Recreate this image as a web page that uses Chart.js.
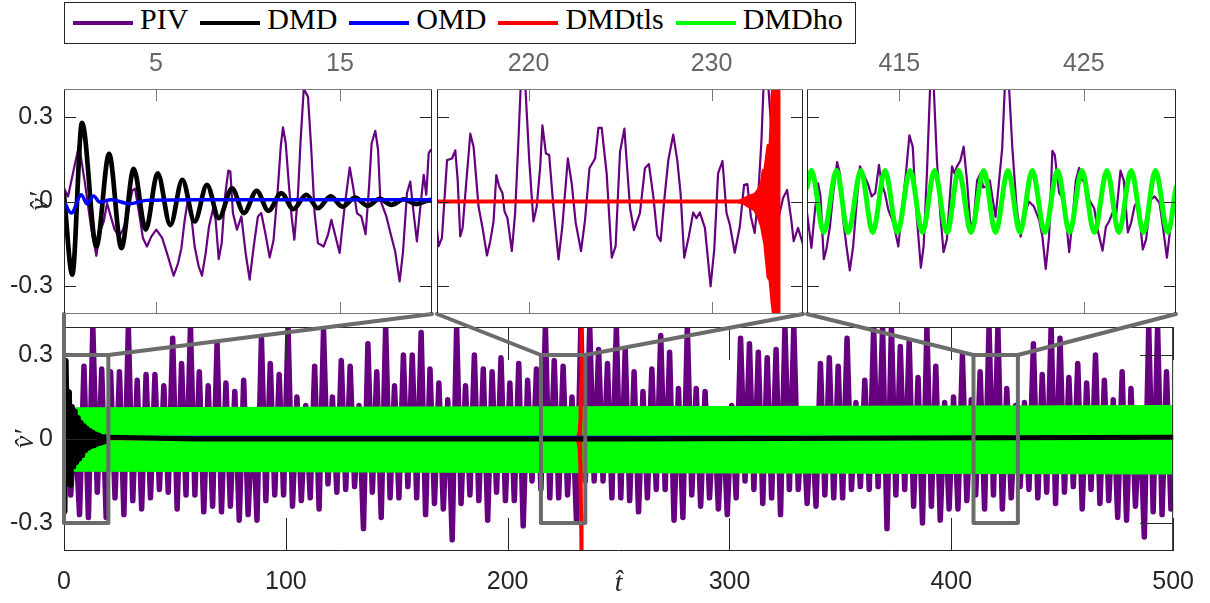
<!DOCTYPE html>
<html>
<head>
<meta charset="utf-8">
<script src="https://cdn.jsdelivr.net/npm/chart.js@4.4.1/dist/chart.umd.min.js"></script>
<style>
  html, body { margin:0; padding:0; background:#ffffff; }
  #wrap { position:relative; width:1210px; height:603px; overflow:hidden; background:#fff; }
  #wrap canvas { position:absolute; left:0; top:0; }
  #legend { position:absolute; left:64px; top:2px; width:782px; height:40px; padding-left:8px; border:1px solid #262626; background:#fff; display:flex; align-items:center; font-family:'Liberation Serif','Times New Roman',serif; font-size:30px; color:#000; }
  #legend .item { display:flex; align-items:center; }
  #legend .item + .item { margin-left:12px; }
  #legend .sw { display:inline-block; width:60px; height:4.5px; margin-right:7px; }
  #legend .lb { position:relative; top:-4px; line-height:30px; white-space:nowrap; }
</style>
</head>
<body>
<div id="wrap">
  <canvas id="cBottom" width="1210" height="603"></canvas>
  <canvas id="cA" width="1210" height="603"></canvas>
  <canvas id="cB" width="1210" height="603"></canvas>
  <canvas id="cC" width="1210" height="603"></canvas>
  <div id="legend"></div>
</div>
<script>
// ---------------- data ----------------
const seriesNames  = ['PIV', 'DMD', 'OMD', 'DMDtls', 'DMDho'];
const seriesColors = ['#660080', '#000000', '#0000ff', '#ff0000', '#00ff00'];

const yTicks       = [-0.3, 0, 0.3];
const yTickLabels  = ['-0.3', '0', '0.3'];
const bottomXTicks = [0, 100, 200, 300, 400, 500];
const insetXTicks  = [[5, 15], [220, 230], [415, 425]];
const zoomWindows  = [[0, 20], [215, 235], [410, 430]];
const zoomYRange   = [-0.3, 0.3];

// PIV in the three zoom windows: [t, v]
const pivWindowA = [[0,0.047],[0.22,0.018],[0.55,0.12],[0.82,0.2],[1.15,0.06],[1.49,-0.10],[1.76,-0.193],[1.94,-0.112],[2.16,-0.071],[2.34,-0.006],[2.54,-0.053],[2.75,-0.10],[2.99,-0.124],[3.21,-0.10],[3.48,-0.041],[3.71,0.039],[3.86,0.046],[4.08,-0.041],[4.29,-0.13],[4.51,-0.16],[4.75,-0.124],[5.02,-0.10],[5.34,-0.13],[5.65,-0.195],[5.96,-0.264],[6.2,-0.219],[6.38,-0.166],[6.56,-0.065],[6.74,0.008],[6.92,-0.053],[7.1,-0.16],[7.32,-0.231],[7.5,-0.264],[7.7,-0.183],[7.88,-0.089],[8.1,-0.027],[8.24,-0.065],[8.41,-0.205],[8.57,-0.148],[8.75,0.018],[8.93,0.11],[9.04,0.107],[9.18,-0.041],[9.4,-0.10],[9.64,-0.053],[9.87,-0.183],[10.09,-0.278],[10.31,-0.16],[10.54,-0.053],[10.72,-0.041],[10.94,-0.112],[11.18,-0.199],[11.39,-0.136],[11.63,0.053],[11.78,0.195],[11.9,0.264],[12.05,0.207],[12.23,0.053],[12.37,-0.053],[12.52,-0.136],[12.72,0.03],[12.86,0.219],[13.03,0.40],[13.26,0.373],[13.44,0.183],[13.62,-0.041],[13.8,-0.148],[14.11,-0.16],[14.35,-0.118],[14.53,-0.065],[14.71,-0.112],[14.98,-0.183],[15.25,-0.018],[15.53,0.121],[15.71,0.053],[15.92,-0.041],[16.16,-0.053],[16.39,-0.116],[16.58,0.053],[16.72,0.207],[16.92,0.251],[17.07,0.183],[17.19,0.006],[17.52,-0.053],[17.74,-0.112],[18.0,-0.178],[18.24,-0.284],[18.42,-0.183],[18.64,0.03],[18.82,0.071],[19.0,-0.041],[19.18,-0.142],[19.37,-0.018],[19.55,0.095],[19.69,0.024],[19.82,0.172],[19.93,0.183],[20.0,0.183]];

const pivWindowB = [[215.00,-0.100],[215.09,-0.159],[215.27,-0.129],[215.55,0.147],[215.82,0.153],[216.00,0.182],[216.13,0.076],[216.27,-0.124],[216.40,-0.094],[216.58,0.053],[216.82,0.241],[217.00,0.194],[217.27,-0.018],[217.49,-0.094],[217.73,-0.192],[217.91,-0.141],[218.09,-0.071],[218.24,0.094],[218.40,0.053],[218.58,0.029],[218.69,-0.035],[218.85,-0.059],[219.09,-0.176],[219.27,-0.041],[219.45,0.218],[219.58,0.42],[219.82,0.42],[220.04,0.147],[220.27,-0.071],[220.45,-0.018],[220.64,0.124],[220.76,0.271],[220.95,0.171],[221.13,0.165],[221.36,-0.018],[221.64,-0.206],[221.85,-0.088],[222.15,0.153],[222.36,0.065],[222.58,-0.076],[222.87,-0.176],[223.09,-0.065],[223.33,0.118],[223.64,0.153],[223.82,0.262],[224.00,0.262],[224.27,0.100],[224.55,-0.200],[224.76,-0.159],[225.00,0.176],[225.24,0.259],[225.38,0.129],[225.55,-0.024],[225.76,-0.102],[226.09,-0.041],[226.36,0.118],[226.58,0.133],[226.82,0.018],[227.04,-0.121],[227.22,-0.141],[227.42,0.006],[227.64,0.147],[227.91,0.238],[228.13,0.147],[228.31,0.029],[228.51,-0.200],[228.76,-0.124],[229.00,-0.039],[229.18,-0.059],[229.36,-0.039],[229.64,-0.094],[229.95,-0.302],[230.15,-0.171],[230.36,0.100],[230.60,0.144],[230.82,-0.041],[231.00,-0.082],[231.27,-0.182],[231.55,-0.088],[231.78,0.059],[231.96,0.062],[232.15,-0.053],[232.36,-0.112],[232.55,0.018],[232.73,0.218],[232.85,0.42],[233.09,0.42],[233.36,0.182],[233.64,-0.065],[233.91,0.012],[234.13,0.041],[234.36,-0.065],[234.49,-0.141],[234.73,-0.094],[235.00,-0.153]];

const pivWindowC = [[410.00,-0.04],[410.24,-0.165],[410.42,-0.04],[410.60,0.065],[410.73,0.02],[410.91,-0.205],[411.05,-0.17],[411.24,-0.09],[411.42,0.03],[411.63,0.14],[411.78,0.10],[411.96,-0.065],[412.14,-0.16],[412.32,-0.245],[412.50,-0.16],[412.69,-0.005],[412.87,0.125],[413.05,0.10],[413.32,0.06],[413.50,0.018],[413.70,0.03],[413.90,0.13],[414.04,0.065],[414.22,0.03],[414.41,-0.03],[414.68,-0.075],[414.95,-0.16],[415.13,-0.04],[415.37,0.105],[415.55,0.235],[415.73,0.195],[415.91,-0.02],[416.17,-0.235],[416.32,-0.16],[416.50,0.10],[416.68,0.42],[416.86,0.42],[417.04,0.15],[417.22,-0.04],[417.40,-0.18],[417.58,-0.135],[417.86,0.125],[417.99,0.10],[418.13,0.125],[418.31,0.145],[418.49,0.195],[418.67,0.075],[418.86,-0.09],[419.04,-0.065],[419.22,0.075],[419.40,0.10],[419.55,0.05],[419.67,0.053],[419.91,0.075],[420.04,0.018],[420.22,-0.055],[420.40,0.065],[420.58,0.19],[420.73,0.42],[420.94,0.42],[421.13,0.19],[421.36,-0.02],[421.58,-0.125],[421.76,-0.053],[422.03,0.0],[422.30,-0.018],[422.58,-0.065],[422.76,-0.125],[422.94,-0.24],[423.12,-0.125],[423.30,0.18],[423.43,0.165],[423.67,0.03],[423.94,0.006],[424.21,-0.18],[424.39,-0.065],[424.57,0.075],[424.75,0.12],[424.93,0.075],[425.11,0.065],[425.30,0.006],[425.57,-0.025],[425.75,-0.1],[426.02,-0.175],[426.20,-0.09],[426.38,-0.07],[426.56,-0.04],[426.75,-0.053],[426.99,0.11],[427.17,0.075],[427.39,-0.11],[427.57,-0.075],[427.75,-0.018],[427.93,0.006],[428.20,-0.17],[428.38,-0.135],[428.62,0.006],[428.84,0.018],[429.11,-0.006],[429.29,-0.09],[429.51,-0.2],[429.74,-0.065],[430.00,0.053]];

// PIV over the full record: highest / lowest value read in each 4-unit bin (t = 0..500)
const pivBinWidth = 4;
const pivTop = [
  0.20,0.05,0.26,0.40,0.25,0.24,0.24,0.40,0.21,0.23,
  0.23,0.19,0.36,0.27,0.40,0.24,0.19,0.34,0.20,0.17,
  0.21,0.10,0.36,0.27,0.23,
  0.40,0.15,0.12,0.26,0.39,0.15,0.28,0.26,0.12,0.34,
  0.24,0.40,0.19,0.30,0.30,0.38,0.25,0.20,0.14,0.40,
  0.19,0.30,0.25,0.24,0.29,
  0.20,0.27,0.21,0.25,0.40,0.28,0.26,0.15,0.40,0.40,
  0.32,0.27,0.40,0.32,0.24,0.17,0.25,0.37,0.31,0.18,
  0.40,0.18,0.17,0.10,0.10,
  0.12,0.36,0.34,0.31,0.29,0.32,0.40,0.40,0.10,0.10,
  0.27,0.29,0.26,0.36,0.13,0.21,0.40,0.40,0.40,0.33,
  0.35,0.22,0.40,0.26,0.13,
  0.15,0.30,0.14,0.24,0.40,0.40,0.18,0.12,0.13,0.34,
  0.23,0.40,0.36,0.22,0.27,0.20,0.30,0.21,0.14,0.24,
  0.18,0.10,0.40,0.40,0.24
];
const pivBottom = [
  -0.20,-0.27,-0.28,-0.19,-0.28,-0.21,-0.27,-0.22,-0.25,-0.21,
  -0.18,-0.19,-0.25,-0.20,-0.20,-0.26,-0.24,-0.26,-0.24,-0.29,
  -0.27,-0.29,-0.22,-0.20,-0.20,
  -0.24,-0.22,-0.21,-0.25,-0.16,-0.19,-0.18,-0.17,-0.32,-0.19,
  -0.28,-0.21,-0.21,-0.17,-0.21,-0.27,-0.23,-0.25,-0.36,-0.23,
  -0.20,-0.22,-0.29,-0.19,-0.22,
  -0.22,-0.31,-0.15,-0.18,-0.21,-0.21,-0.20,-0.29,-0.15,-0.15,
  -0.15,-0.21,-0.21,-0.22,-0.26,-0.21,-0.18,-0.18,-0.29,-0.28,
  -0.20,-0.24,-0.21,-0.25,-0.27,
  -0.21,-0.15,-0.18,-0.23,-0.21,-0.27,-0.18,-0.18,-0.23,-0.24,
  -0.20,-0.21,-0.21,-0.18,-0.17,-0.18,-0.17,-0.32,-0.20,-0.18,
  -0.24,-0.30,-0.24,-0.29,-0.25,
  -0.25,-0.22,-0.20,-0.25,-0.20,-0.25,-0.21,-0.17,-0.18,-0.21,
  -0.19,-0.23,-0.19,-0.17,-0.25,-0.18,-0.23,-0.22,-0.28,-0.29,
  -0.24,-0.35,-0.26,-0.27,-0.25
];

// DMD (black): extrema of the decaying oscillation, then the tail
const dmdPoints = [[0,0.024],[0.45,-0.26],[0.98,0.28],[1.76,-0.16],[2.45,0.169],[3.12,-0.166],[3.79,0.116],[4.44,-0.10],[5.09,0.10],[5.78,-0.084],[6.43,0.077],[7.10,-0.071],[7.77,0.059],[8.42,-0.059],[9.13,0.047],[9.78,-0.041],[10.47,0.038],[11.11,-0.033],[11.81,0.03],[12.46,-0.027],[13.17,0.024],[13.8,-0.024],[14.49,0.018],[15.13,-0.018],[15.83,0.014],[16.49,-0.015],[17.16,0.009],[17.79,-0.012],[18.48,0.008],[19.15,-0.009],[19.96,0.006],[60,0.0],[250,0.0],[500,0.006]];
// OMD (blue)
const omdPoints = [[0,0],[0.4,-0.041],[0.94,0.024],[1.25,-0.008],[1.61,0.02],[1.94,-0.002],[2.57,0.006],[3.57,-0.008],[4.47,0.004],[7.4,0.006],[20,0.006],[500,0.006]];
// DMDtls (red): flat part and the blow-up envelope
const dmdtlsFlat = [[0,0],[231.45,0]];
const dmdtlsBurstT     = [231.45,231.8,232.09,232.36,232.55,232.73,232.82,232.91,233.09,233.2,233.31,233.42,233.78];
const dmdtlsBurstUpper = [0.0,0.01,0.02,0.025,0.04,0.065,0.11,0.11,0.2,0.2,0.38,0.45,0.45];
const dmdtlsBurstLower = [0.0,-0.008,-0.02,-0.03,-0.053,-0.088,-0.12,-0.15,-0.27,-0.28,-0.36,-0.42,-0.42];
// DMDho (green): extrema in window 410-430, and its band over the full record
const dmdhoWindow = [[410,0.05],[410.24,0.11],[410.91,-0.11],[411.60,0.11],[412.23,-0.11],[412.92,0.11],[413.56,-0.11],[414.23,0.11],[414.90,-0.11],[415.59,0.11],[416.26,-0.11],[416.91,0.11],[417.59,-0.11],[418.22,0.11],[418.89,-0.11],[419.58,0.11],[420.22,-0.11],[420.89,0.11],[421.54,-0.11],[422.21,0.11],[422.89,-0.11],[423.58,0.11],[424.23,-0.11],[424.90,0.11],[425.57,-0.11],[426.26,0.11],[426.90,-0.11],[427.57,0.11],[428.24,-0.11],[428.89,0.11],[429.56,-0.11],[430,0.05]];
const dmdhoBandT     = [0, 100, 200, 300, 400, 500];
const dmdhoBandUpper = [0.113, 0.115, 0.117, 0.118, 0.120, 0.121];
const dmdhoBandLower = [-0.117, -0.119, -0.121, -0.123, -0.125, -0.127];

// ---------------- helpers ----------------
Chart.defaults.font.family = "'Liberation Sans', Arial, Helvetica, sans-serif";
const AXIS_DARK = '#262626', AXIS_GREY = '#7a7a7a', ZOOM_GREY = '#6b6b6b';
const pts = arr => arr.map(([t, v]) => ({x: t, y: v}));
const zip = (ts, vs) => ts.map((t, i) => ({x: t, y: vs[i]}));
// the dense PIV record at full scale: alternate each bin's high and low reading
function pivEnvelopeTrace() {
  const out = [];
  pivTop.forEach((v, k) => {
    out.push({x: pivBinWidth * k + 1, y: v});
    out.push({x: pivBinWidth * k + 3, y: pivBottom[k]});
  });
  return out;
}
function lineDs(label, data, color, width, extra) {
  return Object.assign({
    label, data, borderColor: color, backgroundColor: color, borderWidth: width,
    pointRadius: 0, pointHoverRadius: 0, fill: false, clip: 0,
    borderJoinStyle: 'round', borderCapStyle: 'round', tension: 0
  }, extra || {});
}
function frameTicksPlugin(xTicks, tickLen, xColor, yColor) {
  return {
    id: 'frameTicks',
    afterDatasetsDraw(chart) {
      const {ctx, chartArea: a} = chart;
      const x = chart.scales.x, y = chart.scales.y;
      ctx.save();
      ctx.lineWidth = 1;
      ctx.beginPath();
      ctx.strokeStyle = yColor;
      yTicks.forEach(v => {
        const p = Math.round(y.getPixelForValue(v)) + 0.5;
        ctx.moveTo(a.left, p); ctx.lineTo(a.left + tickLen, p);
        ctx.moveTo(a.right, p); ctx.lineTo(a.right - tickLen, p);
      });
      ctx.moveTo(a.left + 0.5, a.top); ctx.lineTo(a.left + 0.5, a.bottom);
      ctx.moveTo(a.right - 0.5, a.top); ctx.lineTo(a.right - 0.5, a.bottom);
      ctx.stroke();
      ctx.beginPath();
      ctx.strokeStyle = xColor;
      xTicks.forEach(v => {
        const p = Math.round(x.getPixelForValue(v)) + 0.5;
        ctx.moveTo(p, a.top); ctx.lineTo(p, a.top + tickLen);
        ctx.moveTo(p, a.bottom); ctx.lineTo(p, a.bottom - tickLen);
      });
      ctx.moveTo(a.left, a.top + 0.5); ctx.lineTo(a.right, a.top + 0.5);
      ctx.moveTo(a.left, a.bottom - 0.5); ctx.lineTo(a.right, a.bottom - 0.5);
      ctx.stroke();
      ctx.restore();
    }
  };
}
const vTitle = '\u0076\u0302\u2032';   // v-hat prime
const tTitle = '\u0074\u0302';         // t-hat
const titleFont = {family: "'Liberation Serif', 'Times New Roman', serif", style: 'italic', size: 28};

function insetOptions(i, padding) {
  const [lo, hi] = zoomWindows[i];
  const showY = i === 0;
  return {
    responsive: false, animation: false, events: [], devicePixelRatio: 1,
    layout: {padding},
    plugins: {legend: {display: false}, tooltip: {enabled: false}},
    scales: {
      x: {
        type: 'linear', position: 'top', min: lo, max: hi,
        afterBuildTicks: s => { s.ticks = insetXTicks[i].map(v => ({value: v})); },
        afterFit: s => { s.height = 49; },
        grid: {display: false, drawTicks: false}, border: {display: false},
        ticks: {color: '#666666', font: {size: 25}, padding: 10, maxRotation: 0, autoSkip: false}
      },
      y: showY ? {
        type: 'linear', min: -0.4, max: 0.4,
        afterBuildTicks: s => { s.ticks = yTicks.map(v => ({value: v})); },
        afterFit: s => { s.width = 64; },
        grid: {display: false, drawTicks: false}, border: {display: false},
        ticks: {color: AXIS_DARK, font: {size: 25}, padding: 11, autoSkip: false, callback: (v, k) => yTickLabels[k]},
        title: {display: true, text: vTitle, color: AXIS_DARK, font: titleFont, padding: {top: 24, bottom: 0}}
      } : {type: 'linear', display: false, min: -0.4, max: 0.4}
    }
  };
}

// ---------------- legend ----------------
const legendEl = document.getElementById('legend');
seriesNames.forEach((name, i) => {
  const item = document.createElement('div'); item.className = 'item';
  const sw = document.createElement('span'); sw.className = 'sw'; sw.style.background = seriesColors[i];
  const lb = document.createElement('span'); lb.className = 'lb'; lb.textContent = name;
  item.append(sw, lb); legendEl.append(item);
});

// ---------------- insets ----------------
const [cPIV, cDMD, cOMD, cTLS, cHO] = seriesColors;
const insetA = new Chart(document.getElementById('cA'), {
  type: 'line',
  data: {datasets: [
    lineDs(seriesNames[2], pts(omdPoints), cOMD, 3.5, {order: 1, cubicInterpolationMode: 'monotone'}),
    lineDs(seriesNames[1], pts(dmdPoints), cDMD, 4.7, {order: 2, cubicInterpolationMode: 'monotone'}),
    lineDs(seriesNames[0], pts(pivWindowA), cPIV, 2.2, {order: 3})
  ]},
  options: insetOptions(0, {left: 0, top: 40, right: 778, bottom: 289}),
  plugins: [frameTicksPlugin(insetXTicks[0], 12, AXIS_GREY, AXIS_DARK)]
});
const insetB = new Chart(document.getElementById('cB'), {
  type: 'line',
  data: {datasets: [
    lineDs(seriesNames[3], pts(dmdtlsFlat), cTLS, 4, {order: 1}),
    lineDs(seriesNames[3], zip(dmdtlsBurstT, dmdtlsBurstUpper), cTLS, 3, {order: 1, fill: '+1'}),
    lineDs(seriesNames[3], zip(dmdtlsBurstT, dmdtlsBurstLower), cTLS, 3, {order: 1}),
    lineDs(seriesNames[0], pts(pivWindowB), cPIV, 2.2, {order: 3})
  ]},
  options: insetOptions(1, {left: 437, top: 40, right: 407, bottom: 289}),
  plugins: [frameTicksPlugin(insetXTicks[1], 12, AXIS_GREY, AXIS_DARK)]
});
const insetC = new Chart(document.getElementById('cC'), {
  type: 'line',
  data: {datasets: [
    lineDs(seriesNames[4], pts(dmdhoWindow), cHO, 5, {order: 1, cubicInterpolationMode: 'monotone'}),
    lineDs(seriesNames[0], pts(pivWindowC), cPIV, 2.2, {order: 3})
  ]},
  options: insetOptions(2, {left: 807, top: 40, right: 34, bottom: 289}),
  plugins: [frameTicksPlugin(insetXTicks[2], 12, AXIS_GREY, AXIS_DARK)]
});
const insets = [insetA, insetB, insetC];

// ---------------- main panel ----------------
const zoomPlugin = {
  id: 'zoomBoxes',
  afterDatasetsDraw(chart) {
    const {ctx} = chart;
    const x = chart.scales.x, y = chart.scales.y;
    ctx.save();
    ctx.strokeStyle = ZOOM_GREY;
    ctx.lineWidth = 4;
    ctx.lineJoin = 'round';
    ctx.lineCap = 'round';
    zoomWindows.forEach((w, i) => {
      const x0 = x.getPixelForValue(w[0]), x1 = x.getPixelForValue(w[1]);
      const yT = y.getPixelForValue(zoomYRange[1]), yB = y.getPixelForValue(zoomYRange[0]);
      ctx.strokeRect(x0, yT, x1 - x0, yB - yT);
      const ia = insets[i].chartArea;
      ctx.beginPath();
      ctx.moveTo(ia.left, ia.bottom); ctx.lineTo(x0, yT);
      ctx.moveTo(ia.right, ia.bottom); ctx.lineTo(x1, yT);
      ctx.stroke();
    });
    ctx.restore();
  }
};
const transparent = 'rgba(0,0,0,0)';
const mainChart = new Chart(document.getElementById('cBottom'), {
  type: 'line',
  data: {datasets: [
    lineDs(seriesNames[1], pts(dmdPoints), cDMD, 5, {order: 1}),
    lineDs(seriesNames[2], pts(omdPoints), cOMD, 3, {order: 2}),
    lineDs(seriesNames[3], pts(dmdtlsFlat), cTLS, 2.5, {order: 3}),
    lineDs(seriesNames[3], zip(dmdtlsBurstT, dmdtlsBurstUpper), cTLS, 4, {order: 3, fill: '+1'}),
    lineDs(seriesNames[3], zip(dmdtlsBurstT, dmdtlsBurstLower), cTLS, 4, {order: 3}),
    lineDs(seriesNames[4], zip(dmdhoBandT, dmdhoBandUpper), transparent, 1, {order: 4, fill: '+1', backgroundColor: cHO}),
    lineDs(seriesNames[4], zip(dmdhoBandT, dmdhoBandLower), transparent, 1, {order: 4}),
    lineDs(seriesNames[0], pivEnvelopeTrace(), cPIV, 5.5, {order: 5})
  ]},
  options: {
    responsive: false, animation: false, events: [], devicePixelRatio: 1,
    layout: {padding: {left: 0, top: 327, right: 35, bottom: 0}},
    plugins: {legend: {display: false}, tooltip: {enabled: false}},
    scales: {
      x: {
        type: 'linear', position: 'bottom', min: 0, max: 500,
        afterBuildTicks: s => { s.ticks = bottomXTicks.map(v => ({value: v})); },
        afterFit: s => { s.height = 52; },
        grid: {display: false, drawTicks: false}, border: {display: false},
        ticks: {color: AXIS_DARK, font: {size: 25}, padding: 16, maxRotation: 0, autoSkip: false},
        title: {display: true, text: tTitle, color: AXIS_DARK, font: titleFont, padding: {top: 0, bottom: 3}}
      },
      y: {
        type: 'linear', min: -0.4, max: 0.4,
        afterBuildTicks: s => { s.ticks = yTicks.map(v => ({value: v})); },
        afterFit: s => { s.width = 64; },
        grid: {display: false, drawTicks: false}, border: {display: false},
        ticks: {color: AXIS_DARK, font: {size: 25}, padding: 11, autoSkip: false, callback: (v, k) => yTickLabels[k]},
        title: {display: true, text: vTitle, color: AXIS_DARK, font: titleFont, padding: {top: 9, bottom: 0}}
      }
    }
  },
  plugins: [frameTicksPlugin(bottomXTicks, 33, AXIS_DARK, AXIS_DARK), zoomPlugin]
});
</script>
</body>
</html>
